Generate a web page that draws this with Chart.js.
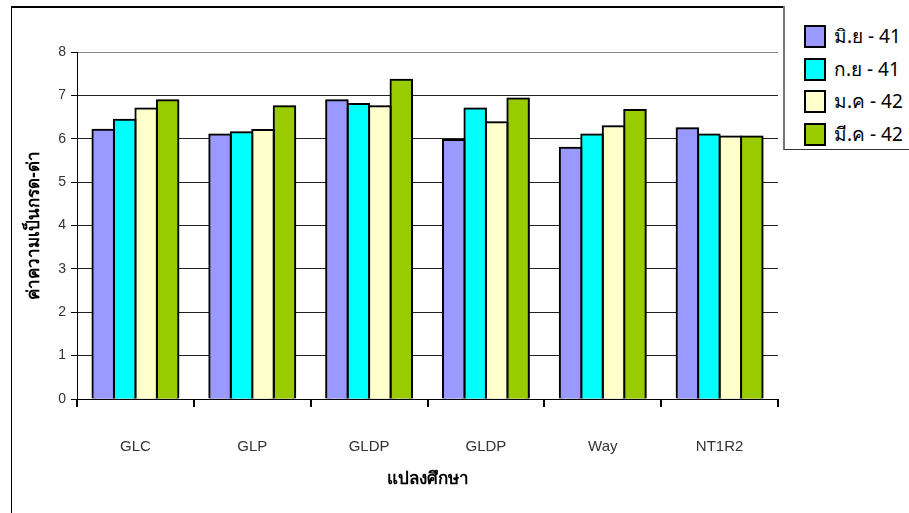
<!DOCTYPE html>
<html>
<head>
<meta charset="utf-8">
<script src="https://cdn.jsdelivr.net/npm/chart.js@4.4.0/dist/chart.umd.min.js"></script>
<style>
    body { margin: 0; background: #fff; }
    #wrap { position: relative; width: 909px; height: 513px; overflow: hidden; }
    #frame { position: absolute; left: 11px; top: 6px; width: 1000px; height: 600px; border-left: 1px solid #000; border-top: 2px solid #000; }
    #legend { position: absolute; left: 783px; top: 6px; width: 200px; height: 143px; border-left: 2px solid #777; border-bottom: 1px solid #333; background: #fff; }
    .item { position: absolute; left: 19px; height: 24px; font-family: "Noto Sans", "DejaVu Sans", sans-serif; font-size: 19px; line-height: 24px; color: #000; white-space: nowrap; }
    .item span.box { display: inline-block; width: 18px; height: 19px; border: 2px solid #000; vertical-align: -5px; margin-right: 8px; }
    canvas { position: absolute; left: 0; top: 0; }
</style>
</head>
<body>
<div id="wrap">
    <div id="frame"></div>
    <canvas id="myChart" width="909" height="513"></canvas>
    <div id="legend"></div>
</div>
<script>
const plots = ['GLC', 'GLP', 'GLDP', 'GLDP', 'Way', 'NT1R2'];
const seriesNames = ['มิ.ย - 41', 'ก.ย - 41', 'ม.ค - 42', 'มี.ค - 42'];
const jun41 = [6.21, 6.10, 6.89, 5.97, 5.79, 6.24];
const sep41 = [6.44, 6.15, 6.80, 6.70, 6.10, 6.10];
const jan42 = [6.70, 6.20, 6.75, 6.38, 6.29, 6.05];
const mar42 = [6.89, 6.75, 7.36, 6.93, 6.66, 6.05];
const colors = ['#9999FF', '#00FFFF', '#FFFFCC', '#99CC00'];

const values = [jun41, sep41, jan42, mar42];

// soft grey halo round the bars, like the old excel export
const barShadow = {
    id: 'barShadow',
    beforeDatasetsDraw: function (chart) {
        let c = chart.ctx;
        c.save();
        c.shadowColor = 'rgba(0,0,0,0.35)';
        c.shadowBlur = 2;
        c.shadowOffsetX = 1;
        c.shadowOffsetY = 0;
    },
    afterDatasetsDraw: function (chart) {
        chart.ctx.restore();
    }
};

const drawChart = function () {
    let ctx = document.getElementById('myChart').getContext('2d');

    let chart = new Chart(ctx, {
        type: 'bar',
        data: {
            labels: plots,
            datasets: seriesNames.map(function (name, i) {
                return {
                    label: name,
                    data: values[i],
                    backgroundColor: colors[i],
                    borderColor: '#000',
                    borderWidth: 2,
                    borderSkipped: 'bottom',
                    inflateAmount: 1,
                    barPercentage: 1,
                    categoryPercentage: 0.735
                };
            })
        },
        options: {
            responsive: false,
            animation: false,
            layout: { padding: { left: 0, right: 131, top: 52, bottom: 0 } },
            plugins: {
                legend: { display: false },
                tooltip: { enabled: false }
            },
            scales: {
                y: {
                    min: 0,
                    max: 8,
                    ticks: {
                        stepSize: 1,
                        color: '#333',
                        padding: 5,
                        font: { family: 'Liberation Sans', size: 14 }
                    },
                    grid: {
                        color: function (c) {
                            if (c.tick && c.tick.value === 8) return '#888';
                            return '#222';
                        },
                        lineWidth: 1,
                        tickLength: 6,
                        tickColor: '#000'
                    },
                    border: { color: '#000', width: 1 },
                    title: {
                        display: true,
                        text: 'ค่าความเป็นกรด-ด่า',
                        color: '#000',
                        font: { family: 'Noto Sans', size: 17, weight: 'bold' },
                        padding: { top: 24, bottom: 0 }
                    },
                    afterFit: function (scale) { scale.width = 77; }
                },
                x: {
                    ticks: {
                        color: '#333',
                        padding: 31,
                        font: { family: 'Liberation Sans', size: 15 }
                    },
                    grid: {
                        offset: true,
                        color: function (c) {
                            return c.index === plots.length ? '#888' : 'rgba(0,0,0,0)';
                        },
                        lineWidth: 2,
                        tickLength: 8,
                        tickColor: '#000'
                    },
                    border: { color: '#000', width: 1 },
                    title: {
                        display: true,
                        text: 'แปลงศึกษา',
                        color: '#000',
                        font: { family: 'Noto Sans', size: 17, weight: 'bold' },
                        padding: { top: 0, bottom: 24 }
                    },
                    afterFit: function (scale) { scale.height = 114; }
                }
            }
        },
        plugins: [barShadow]
    });
    return chart;
};

document.addEventListener("DOMContentLoaded", function () {
    let chart = drawChart();

    // legend from the datasets
    let html = '';
    chart.data.datasets.forEach(function (ds, i) {
        html += '<div class="item" style="top:' + (18 + i * 32.5) + 'px"><span class="box" style="background:' +
            ds.backgroundColor + '"></span>' + ds.label + '</div>';
    });
    document.getElementById('legend').innerHTML = html;
});
</script>
</body>
</html>
